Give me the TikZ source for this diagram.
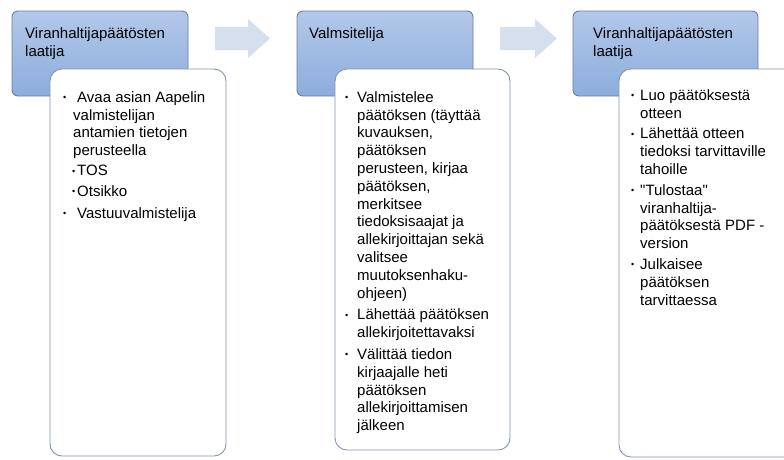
\documentclass[tikz,border=0pt]{standalone}
\usepackage{fontspec}
\setmainfont{Liberation Sans}
\definecolor{hdtop}{HTML}{B3C8E9}
\definecolor{hdbot}{HTML}{8CADDD}
\definecolor{hdline}{HTML}{6C7D98}
\definecolor{bdline}{HTML}{8395B5}
\definecolor{arrfill}{HTML}{D5DFEE}
\newcommand{\bul}{\makebox[14pt][l]{\raisebox{1.5pt}{\fontsize{9}{9}\selectfont •}}}
\newcommand{\cont}{\hspace*{10pt}}
\newcommand{\fl}{\rule{0pt}{13pt}}
\begin{document}
\begin{tikzpicture}[x=1pt,y=-1pt,
  header/.style={draw=hdline,line width=0.9pt,rounded corners=6pt,top color=hdtop,bottom color=hdbot},
  bodybox/.style={draw=bdline,line width=0.9pt,rounded corners=12pt,fill=white},
  flowarrow/.style={fill=arrfill,draw=none},
  txt/.style={anchor=north west,inner sep=0pt,align=left,font=\fontsize{15}{17.8}\selectfont}]
\path[use as bounding box,fill=white] (0,0) rectangle (784,459);
% arrows
\coordinate (a1) at (215,38.5);
\path[flowarrow] (a1) ++(0,-11.5) -- ++(33,0) -- ++(0,-8) -- (270,38.5) -- (248,58) -- ++(0,-8) -- ++(-33,0) -- cycle;
\coordinate (a2) at (500,38.5);
\path[flowarrow] (a2) ++(0,-11.5) -- ++(35,0) -- ++(0,-8) -- (557,38.5) -- (535,58) -- ++(0,-8) -- ++(-35,0) -- cycle;
% headers
\path[header] (12,11) rectangle (188,96);
\coordinate (h1) at (12,11);
\path[header] (297,11) rectangle (473,96);
\coordinate (h2) at (297,11);
\path[header] (573,11) rectangle (758,96);
\coordinate (h3) at (573,11);
\node[txt] (t1) at (25,25) {\fl Viranhaltijapäätösten\\laatija};
\node[txt] (t2) at (309,25) {\fl Valmsitelija};
\node[txt] (t3) at (593,25) {\fl Viranhaltijapäätösten\\laatija};
% bodies
\path[bodybox] (50,69) rectangle (226,456);
\path[bodybox] (335,69) rectangle (510,450);
\path[bodybox] (619,69) rectangle (800,457);
\node[txt] (b1) at (63,89) {\fl\bul Avaa asian Aapelin\\
\cont valmistelijan\\
\cont antamien tietojen\\
\cont perusteella\\[2.5pt]
\hspace*{9pt}\makebox[5pt][l]{\raisebox{1.5pt}{\fontsize{9}{9}\selectfont •}}TOS\\[2.5pt]
\hspace*{9pt}\makebox[5pt][l]{\raisebox{1.5pt}{\fontsize{9}{9}\selectfont •}}Otsikko\\[4pt]
\bul Vastuuvalmistelija};
\node[txt] (b2) at (345,89) {\fl\makebox[12pt][l]{\raisebox{1.5pt}{\fontsize{9}{9}\selectfont •}}Valmistelee\\
\hspace*{12pt}päätöksen (täyttää\\
\hspace*{12pt}kuvauksen,\\
\hspace*{12pt}päätöksen\\
\hspace*{12pt}perusteen, kirjaa\\
\hspace*{12pt}päätöksen,\\
\hspace*{12pt}merkitsee\\
\hspace*{12pt}tiedoksisaajat ja\\
\hspace*{12pt}allekirjoittajan sekä\\
\hspace*{12pt}valitsee\\
\hspace*{12pt}muutoksenhaku-\\
\hspace*{12pt}ohjeen)\\[4pt]
\makebox[12pt][l]{\raisebox{1.5pt}{\fontsize{9}{9}\selectfont •}}Lähettää päätöksen\\
\hspace*{12pt}allekirjoitettavaksi\\[4pt]
\makebox[12pt][l]{\raisebox{1.5pt}{\fontsize{9}{9}\selectfont •}}Välittää tiedon\\
\hspace*{12pt}kirjaajalle heti\\
\hspace*{12pt}päätöksen\\
\hspace*{12pt}allekirjoittamisen\\
\hspace*{12pt}jälkeen};
\node[txt] (b3) at (631,87) {\fl\makebox[9pt][l]{\raisebox{1.5pt}{\fontsize{9}{9}\selectfont •}}Luo päätöksestä\\
\hspace*{9pt}otteen\\[3pt]
\makebox[9pt][l]{\raisebox{1.5pt}{\fontsize{9}{9}\selectfont •}}Lähettää otteen\\
\hspace*{9pt}tiedoksi tarvittaville\\
\hspace*{9pt}tahoille\\[3pt]
\makebox[9pt][l]{\raisebox{1.5pt}{\fontsize{9}{9}\selectfont •}}\textquotedbl Tulostaa\textquotedbl\\
\hspace*{9pt}viranhaltija-\\
\hspace*{9pt}päätöksestä PDF -\\
\hspace*{9pt}version\\[3pt]
\makebox[9pt][l]{\raisebox{1.5pt}{\fontsize{9}{9}\selectfont •}}Julkaisee\\
\hspace*{9pt}päätöksen\\
\hspace*{9pt}tarvittaessa};
\end{tikzpicture}
\end{document}
